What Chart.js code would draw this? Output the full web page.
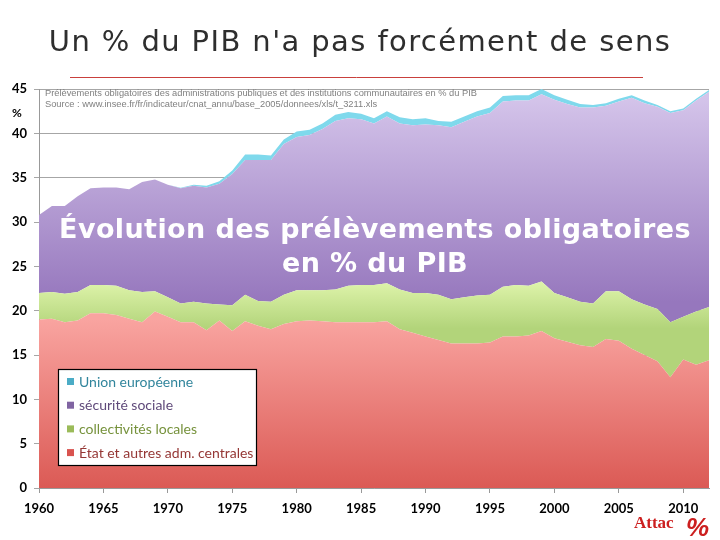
<!DOCTYPE html>
<html>
<head>
<meta charset="utf-8">
<script src="https://cdn.jsdelivr.net/npm/chart.js@4.4.0/dist/chart.umd.min.js"></script>
<style>
  html, body { margin: 0; padding: 0; background: #fff; }
  #cadre { width: 720px; height: 540px; position: relative; }
</style>
</head>
<body>
<div id="cadre"><canvas id="graphique"></canvas></div>
<script>
// Années (catégories)
const annees = ['1960','1961','1962','1963','1964','1965','1966','1967','1968','1969',
  '1970','1971','1972','1973','1974','1975','1976','1977','1978','1979',
  '1980','1981','1982','1983','1984','1985','1986','1987','1988','1989',
  '1990','1991','1992','1993','1994','1995','1996','1997','1998','1999',
  '2000','2001','2002','2003','2004','2005','2006','2007','2008','2009',
  '2010','2011','2012'];

// Prélèvements en % du PIB
const etat = [19.0, 19.1, 18.7, 18.9, 19.7, 19.7, 19.5, 19.1, 18.7, 19.9,
  19.3, 18.7, 18.7, 17.8, 18.9, 17.7, 18.8, 18.3, 17.9, 18.5,
  18.8, 18.9, 18.8, 18.7, 18.7, 18.7, 18.7, 18.8, 17.9, 17.5,
  17.1, 16.7, 16.3, 16.3, 16.3, 16.4, 17.1, 17.1, 17.2, 17.7,
  16.9, 16.5, 16.1, 15.9, 16.8, 16.6, 15.7, 15.0, 14.3, 12.5,
  14.5, 13.9, 14.4];
const collectivites = [3.0, 3.0, 3.2, 3.2, 3.2, 3.2, 3.3, 3.2, 3.4, 2.3,
  2.2, 2.1, 2.3, 3.0, 1.8, 2.9, 3.0, 2.8, 3.1, 3.3,
  3.5, 3.4, 3.5, 3.7, 4.1, 4.2, 4.2, 4.3, 4.5, 4.5,
  4.9, 5.1, 5.0, 5.2, 5.4, 5.4, 5.6, 5.8, 5.6, 5.6,
  5.1, 5.0, 4.9, 4.9, 5.4, 5.6, 5.6, 5.7, 5.9, 6.2,
  4.8, 6.0, 6.0];
const securite = [8.8, 9.7, 9.9, 10.8, 10.9, 11.0, 11.1, 11.4, 12.4, 12.6,
  12.7, 13.0, 13.1, 13.1, 13.6, 14.8, 15.2, 15.9, 16.0, 17.0,
  17.3, 17.5, 18.2, 19.0, 18.9, 18.7, 18.2, 18.8, 18.7, 18.9,
  19.0, 19.1, 19.4, 19.8, 20.2, 20.5, 20.9, 20.8, 20.9, 21.1,
  21.8, 21.8, 21.9, 22.1, 20.9, 21.4, 22.7, 22.7, 22.8, 23.6,
  23.3, 23.8, 24.3];
const unionEuropeenne = [0, 0, 0, 0, 0, 0, 0, 0, 0, 0,
  0, 0.05, 0.1, 0.2, 0.3, 0.4, 0.6, 0.6, 0.5, 0.5,
  0.6, 0.6, 0.6, 0.7, 0.7, 0.6, 0.6, 0.6, 0.7, 0.7,
  0.7, 0.5, 0.6, 0.6, 0.6, 0.6, 0.6, 0.6, 0.6, 0.6,
  0.5, 0.5, 0.4, 0.3, 0.3, 0.3, 0.3, 0.3, 0.2, 0.2,
  0.2, 0.2, 0.2];

const nomsSeries = ['État et autres adm. centrales', 'collectivités locales', 'sécurité sociale', 'Union européenne'];

// Dégradé vertical entre deux valeurs de l'axe y
function degrade(ctx, haut, bas, vHaut, vBas) {
  const chart = ctx.chart;
  if (!chart.chartArea) return haut;
  const y = chart.scales.y;
  const g = chart.ctx.createLinearGradient(0, y.getPixelForValue(vHaut), 0, y.getPixelForValue(vBas));
  g.addColorStop(0, haut);
  g.addColorStop(1, bas);
  return g;
}

// Textes, légende et logo dessinés par-dessus
const habillage = {
  id: 'habillage',
  afterDraw(chart) {
    const c = chart.ctx;
    c.save();
    // titre
    c.fillStyle = '#2e2e2e';
    c.font = '29px "DejaVu Sans"';
    c.letterSpacing = '1.4px';
    c.textAlign = 'center';
    c.textBaseline = 'alphabetic';
    c.fillText("Un % du PIB n'a pas forcément de sens", 360, 51);
    c.letterSpacing = '0px';
    c.strokeStyle = '#c9403c';
    c.lineWidth = 1;
    c.beginPath(); c.moveTo(70, 77.5); c.lineTo(643, 77.5); c.stroke();

    // unité
    c.fillStyle = '#000';
    c.font = 'bold 12px Lato';
    c.textAlign = 'center';
    c.fillText('%', 17, 117);

    // source
    c.fillStyle = '#808080';
    c.font = '9.3px "Liberation Sans"';
    c.textAlign = 'left';
    c.fillText('Prélèvements obligatoires des administrations publiques et des institutions communautaires en % du PIB', 45, 96);
    c.fillText('Source : www.insee.fr/fr/indicateur/cnat_annu/base_2005/donnees/xls/t_3211.xls', 45, 107);

    // grand texte
    c.fillStyle = '#fff';
    c.font = 'bold 27px "DejaVu Sans"';
    c.letterSpacing = '0.4px';
    c.textAlign = 'center';
    c.fillText('Évolution des prélèvements obligatoires', 375, 238);
    c.fillText('en % du PIB', 375, 272);
    c.letterSpacing = '0px';

    // légende
    c.fillStyle = '#fff';
    c.fillRect(58, 369, 198, 96);
    c.strokeStyle = '#000';
    c.lineWidth = 1.2;
    c.strokeRect(58.5, 369.5, 198, 96);
    const items = [
      { t: nomsSeries[3], m: '#4bacc6', f: '#31859c' },
      { t: nomsSeries[2], m: '#8064a2', f: '#5f497a' },
      { t: nomsSeries[1], m: '#9bbb59', f: '#76923c' },
      { t: nomsSeries[0], m: '#d9534f', f: '#953735' }
    ];
    c.font = '14px Lato';
    c.textBaseline = 'middle';
    c.textAlign = 'left';
    items.forEach((it, i) => {
      const yy = 382 + i * 23.7;
      c.fillStyle = it.m;
      c.fillRect(67, yy - 4, 7, 7);
      c.fillStyle = it.f;
      c.fillText(it.t, 79, yy);
    });

    // logo
    c.fillStyle = '#cc1f1f';
    c.font = 'bold 17px "Liberation Serif"';
    c.textBaseline = 'alphabetic';
    c.fillText('Attac', 634, 528);
    c.font = 'bold italic 26px "Liberation Sans"';
    c.fillText('%', 686, 536);
    c.restore();
  }
};

new Chart(document.getElementById('graphique'), {
  type: 'line',
  data: {
    labels: annees,
    datasets: [
      {
        label: nomsSeries[0],
        data: etat,
        fill: 'origin',
        backgroundColor: ctx => degrade(ctx, '#f9a4a0', '#db5a55', 19, 0)
      },
      {
        label: nomsSeries[1],
        data: collectivites,
        fill: '-1',
        backgroundColor: ctx => degrade(ctx, '#dcf2a8', '#b2d47a', 23, 18)
      },
      {
        label: nomsSeries[2],
        data: securite,
        fill: '-1',
        backgroundColor: ctx => degrade(ctx, '#d4c4ea', '#9677bd', 44, 21)
      },
      {
        label: nomsSeries[3],
        data: unionEuropeenne,
        fill: '-1',
        backgroundColor: '#7fd9ec'
      }
    ]
  },
  options: {
    responsive: true,
    maintainAspectRatio: false,
    animation: false,
    layout: { padding: { top: 89, right: 11, left: 0, bottom: 0 } },
    elements: {
      line: { borderWidth: 0, tension: 0 },
      point: { radius: 0, hoverRadius: 0 }
    },
    plugins: {
      legend: { display: false },
      tooltip: { enabled: false }
    },
    scales: {
      x: {
        offset: false,
        afterFit: s => { s.height = 52; },
        grid: {
          drawOnChartArea: false,
          tickLength: 5,
          color: ctx => (ctx.index % 5 === 0 ? '#999' : 'rgba(0,0,0,0)')
        },
        border: { color: '#999' },
        ticks: {
          autoSkip: false,
          maxRotation: 0,
          padding: 8,
          color: '#000',
          font: { family: 'Lato', size: 13, weight: 'bold' },
          callback: function (v, i) { return i % 5 === 0 ? annees[i] : ''; }
        }
      },
      y: {
        stacked: true,
        min: 0,
        max: 45,
        afterFit: s => { s.width = 39; },
        grid: { color: '#a6a6a6', tickLength: 5 },
        border: { color: '#999' },
        ticks: {
          stepSize: 5,
          padding: 7,
          color: '#000',
          font: { family: 'Lato', size: 13, weight: 'bold' }
        }
      }
    }
  },
  plugins: [habillage]
});
</script>
</body>
</html>
